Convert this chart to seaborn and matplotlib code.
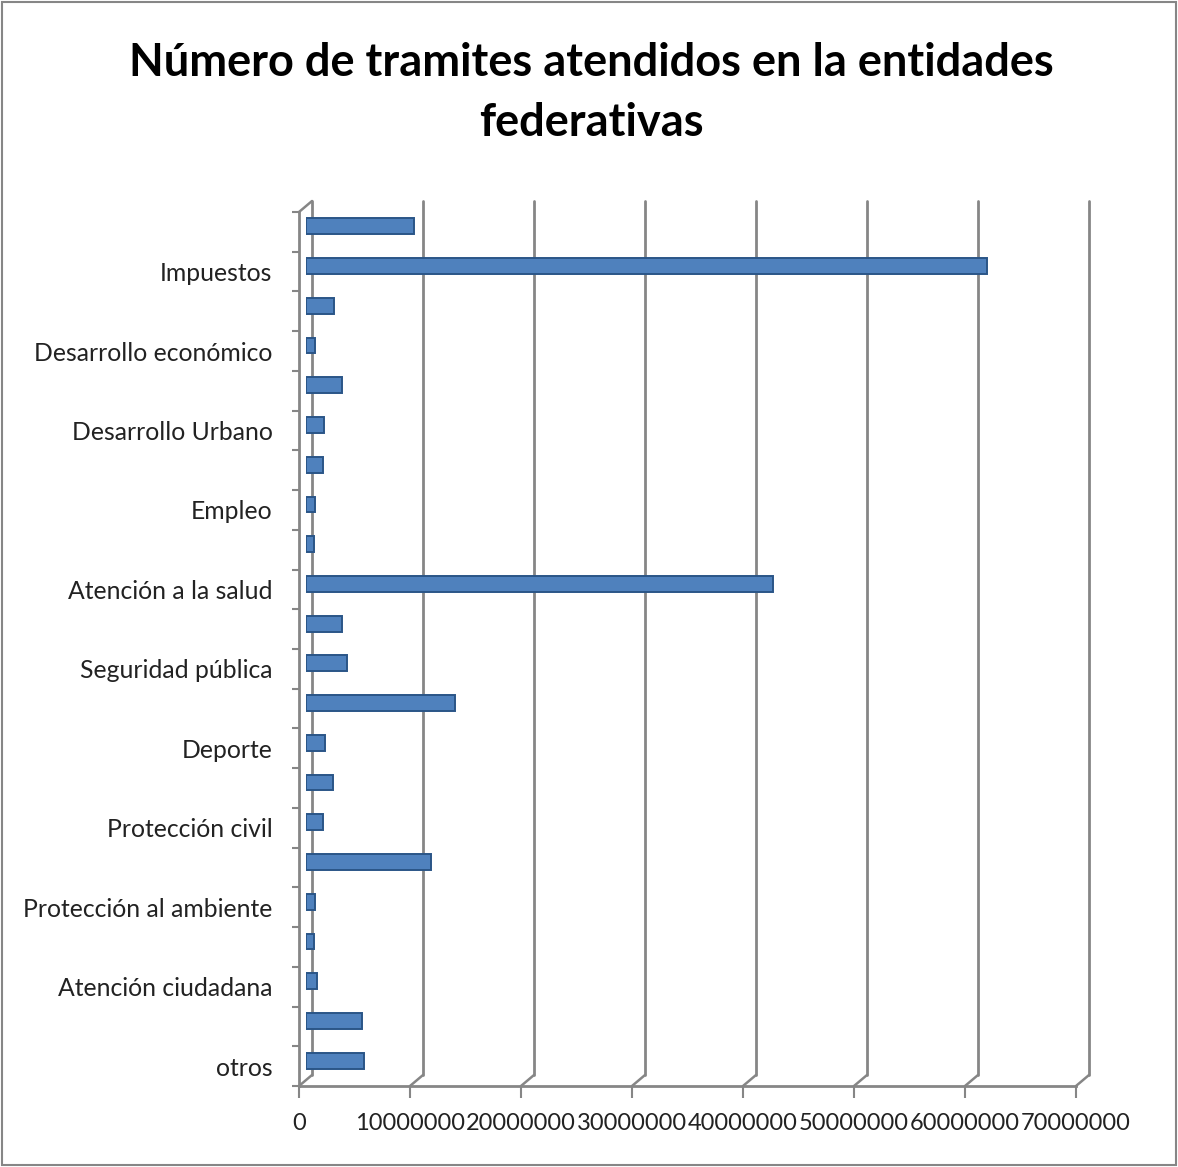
import numpy as np
import pandas as pd
import matplotlib
matplotlib.use("Agg")
import matplotlib.pyplot as plt
from matplotlib.lines import Line2D
from matplotlib.patches import Rectangle
import seaborn as sns

# ---------------- data ----------------
title = "Número de tramites atendidos en la entidades\nfederativas"
tick_labels = ["", "Impuestos", "", "Desarrollo económico", "", "Desarrollo Urbano",
               "", "Empleo", "", "Atención a la salud", "", "Seguridad pública",
               "", "Deporte", "", "Protección civil", "", "Protección al ambiente",
               "", "Atención ciudadana", "", "otros"]
values = [9.8e6, 61.4e6, 2.6e6, 0.9e6, 3.3e6, 1.7e6, 1.6e6, 0.9e6, 0.8e6, 42.1e6,
          3.3e6, 3.7e6, 13.5e6, 1.8e6, 2.5e6, 1.6e6, 11.3e6, 0.9e6, 0.8e6, 1.0e6,
          5.1e6, 5.3e6]
x_ticks = [0, 10000000, 20000000, 30000000, 40000000, 50000000, 60000000, 70000000]

df = pd.DataFrame({"pos": [str(i) for i in range(len(values))], "valor": values})

# ---------------- layout ----------------
sns.set_theme(style="white")
plt.rcParams["font.family"] = ["Lato", "DejaVu Sans"]

W, H = 1178, 1167
fig = plt.figure(figsize=(W / 100, H / 100), dpi=100, facecolor="white")

def rect(x0, ytop, w, h):
    return [x0 / W, 1 - (ytop + h) / H, w / W, h / H]

FX, FY, AW, AH = 299, 212, 777, 874
DX, DY = 13, -11
GRAY = "#868686"

ax_back = fig.add_axes(rect(FX + DX, FY + DY, AW, AH), zorder=1)
ax_bar = fig.add_axes(rect(FX + DX / 2, FY + DY / 2, AW, AH), zorder=2)
ax_front = fig.add_axes(rect(FX, FY, AW, AH), zorder=3)

# back wall with gridlines
ax_back.set_xlim(0, 70e6)
ax_back.set_ylim(0, 1)
ax_back.set_xticks(x_ticks)
ax_back.set_yticks([])
ax_back.tick_params(axis="x", length=0, labelbottom=False)
ax_back.grid(axis="x", color=GRAY, linewidth=2)
for gl in ax_back.get_xgridlines():
    gl.set_clip_on(False)
for s in ax_back.spines.values():
    s.set_visible(False)

# bars (mid depth)
sns.barplot(data=df, y="pos", x="valor", orient="h", ax=ax_bar, color="#4F81BD",
            width=0.40, saturation=1, edgecolor="#2A5587", linewidth=1.4)
ax_bar.set_xlim(0, 70e6)
ax_bar.set_axis_off()
ax_bar.patch.set_alpha(0)
ylim = ax_bar.get_ylim()

# front axes: spines, ticks and labels
ax_front.patch.set_alpha(0)
ax_front.set_xlim(0, 70e6)
ax_front.set_ylim(ylim)
ax_front.set_xticks(x_ticks)
ax_front.set_xticklabels([str(v) for v in x_ticks], fontsize=17, color="#222222")
ax_front.set_yticks(range(len(tick_labels)))
ax_front.set_yticklabels(tick_labels, fontsize=17.8, color="#222222")
ax_front.set_yticks(np.arange(-0.5, len(tick_labels), 1.0), minor=True)
ax_front.tick_params(axis="y", which="major", length=0, pad=19)
ax_front.tick_params(axis="y", which="minor", length=5, width=1.5, color=GRAY, direction="out", left=True)
ax_front.tick_params(axis="x", length=8.5, width=1.5, color=GRAY, direction="out", pad=11, bottom=True)
for side in ["top", "right"]:
    ax_front.spines[side].set_visible(False)
for side in ["left", "bottom"]:
    ax_front.spines[side].set_color(GRAY)
    ax_front.spines[side].set_linewidth(2)

# 3D floor / wall edges (diagonals from front to back)
inv = fig.transFigure.inverted()
def diag(x_disp, y_disp):
    p0 = inv.transform((x_disp, y_disp))
    p1 = inv.transform((x_disp + DX, y_disp - DY))
    fig.add_artist(Line2D([p0[0], p1[0]], [p0[1], p1[1]], color=GRAY, linewidth=1.8, zorder=4))

for v in x_ticks:
    xd, yd = ax_front.transData.transform((v, ylim[0]))
    diag(xd, yd)
xd, yd = ax_front.transData.transform((0, ylim[1]))
diag(xd, yd)

# title
fig.text(591 / W, 1 - 93 / H, title, ha="center", va="center", fontsize=32.5,
         fontweight="bold", linespacing=1.55, color="black")

# chart border
fig.add_artist(Rectangle((2 / W, 2 / H), (W - 4) / W, (H - 4) / H, transform=fig.transFigure,
                         fill=False, edgecolor=GRAY, linewidth=1.5))

fig.savefig("out.png", dpi=100, facecolor="white")
